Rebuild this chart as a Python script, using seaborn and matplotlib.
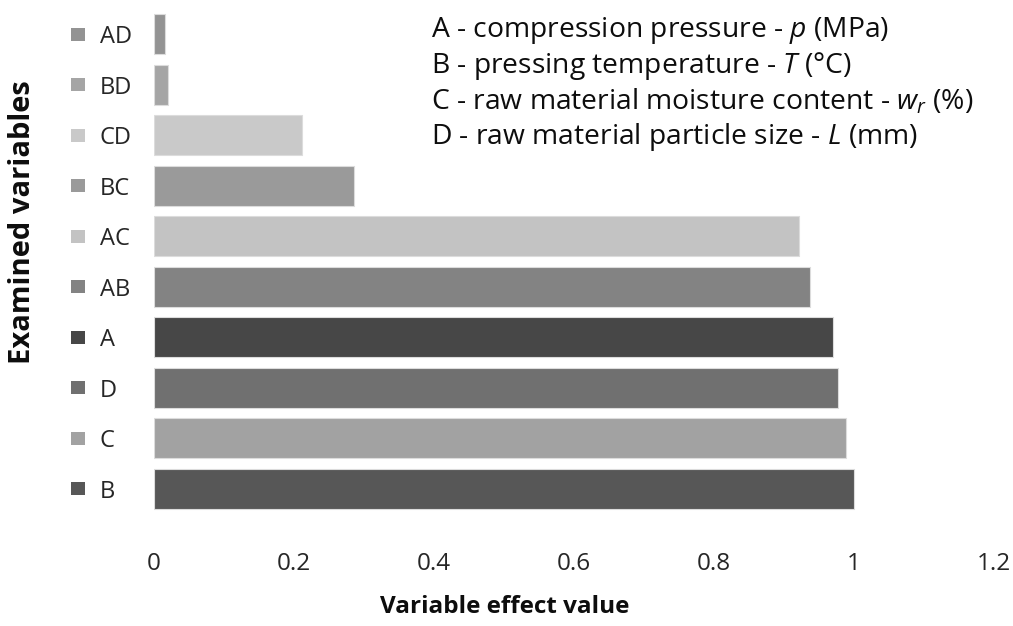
import matplotlib
matplotlib.use("Agg")
import pandas as pd
import seaborn as sns
from matplotlib import pyplot as plt
import matplotlib.transforms as mtrans

# order top to bottom, as shown
variables = ["AD", "BD", "CD", "BC", "AC", "AB", "A", "D", "C", "B"]
effects = [0.016, 0.020, 0.212, 0.286, 0.921, 0.937, 0.970, 0.977, 0.988, 1.0]
bar_colors = ["#939393", "#a5a5a5", "#c9c9c9", "#9a9a9a", "#c3c3c3",
              "#838383", "#474747", "#707070", "#a2a2a2", "#575757"]
x_ticks = [0, 0.2, 0.4, 0.6, 0.8, 1, 1.2]
x_ticklabels = ["0", "0.2", "0.4", "0.6", "0.8", "1", "1.2"]
legend_lines = [
    "A - compression pressure - $p$ (MPa)",
    "B - pressing temperature - $T$ (°C)",
    "C - raw material moisture content - $w_r$ (%)",
    "D - raw material particle size - $L$ (mm)",
]

sns.set_style("white")
plt.rcParams["font.family"] = ["Open Sans", "DejaVu Sans"]
plt.rcParams["mathtext.fontset"] = "custom"
plt.rcParams["mathtext.rm"] = "Open Sans"
plt.rcParams["mathtext.it"] = "Open Sans:italic"

df = pd.DataFrame({"variable": variables, "effect": effects})

W, H = 1013, 626
fig = plt.figure(figsize=(W / 100, H / 100), dpi=100)
ax = fig.add_axes([154 / W, 1 - 514 / H, (994 - 154) / W, (514 - 9) / H])

sns.barplot(data=df, x="effect", y="variable", hue="variable", palette=bar_colors,
            order=variables, legend=False, width=0.79, ax=ax,
            edgecolor="#dcdcdc", linewidth=0.8, saturation=1)

ax.set_xlim(0, 1.2)
ax.set_ylim(9.5, -0.5)
ax.set_xticks(x_ticks)
ax.set_xticklabels(x_ticklabels, fontsize=17.5, color="#262626")
ax.tick_params(axis="x", length=0, pad=27)
ax.set_yticks(range(len(variables)))
ax.set_yticklabels(variables, fontsize=17, color="#262626")
ax.tick_params(axis="y", length=0, pad=39)
for lab in ax.get_yticklabels():
    lab.set_ha("left")
ax.set_xlabel("")
ax.set_ylabel("")
for sp in ax.spines.values():
    sp.set_visible(False)
ax.grid(False)

# legend-key squares beside the category labels
trans = mtrans.blended_transform_factory(ax.transAxes, ax.transData)
ax.scatter([-76 / 840] * len(variables), range(len(variables)), marker="s", s=88,
           c=bar_colors, transform=trans, clip_on=False, linewidths=0)

fig.text(505 / W, 1 - 607 / H, "Variable effect value", fontsize=17.5,
         fontweight="bold", ha="center", va="center", color="#0d0d0d")
fig.text(23 / W, 1 - 222 / H, "Examined variables", fontsize=21,
         fontweight="bold", rotation=90, ha="center", va="center", color="#0d0d0d")

for i, line in enumerate(legend_lines):
    fig.text(431 / W, 1 - (30 + 35.7 * i) / H, line, fontsize=20.3,
             ha="left", va="center", color="#0d0d0d")

fig.savefig("out.png", dpi=100)
